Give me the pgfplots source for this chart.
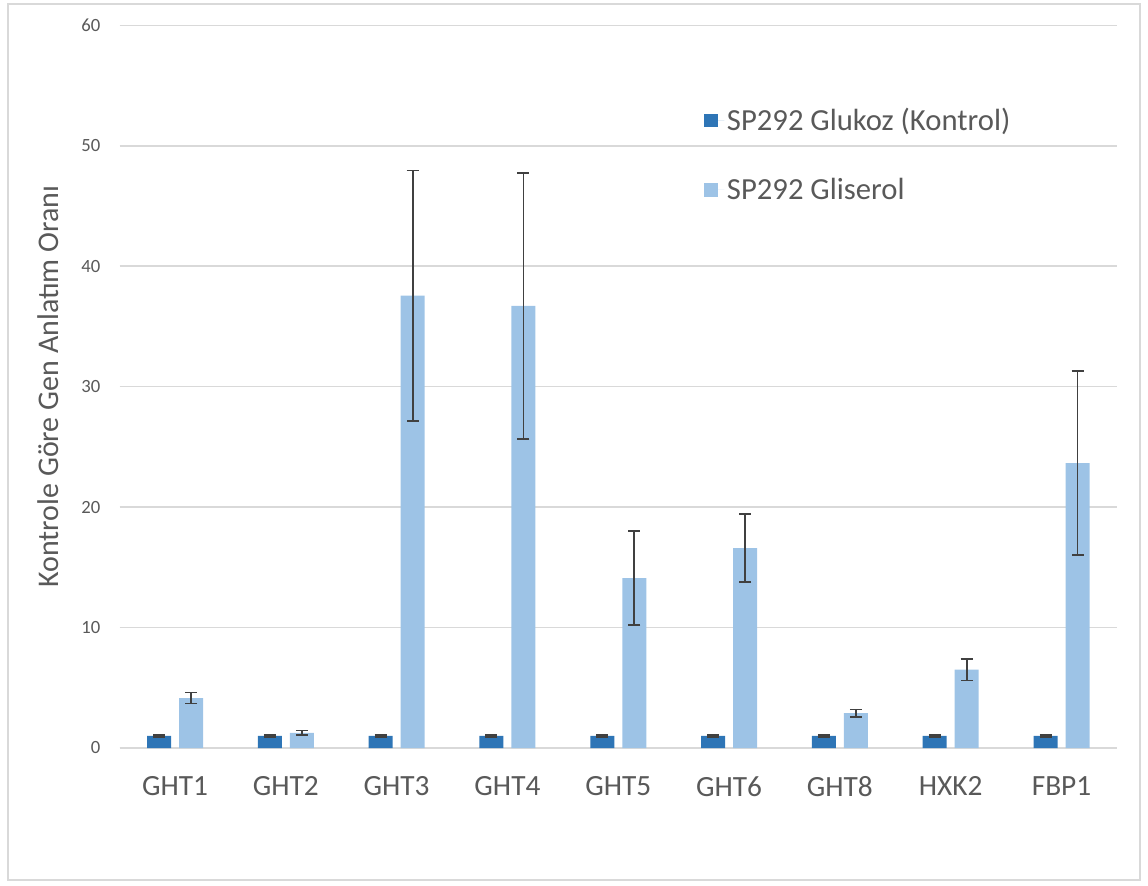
\documentclass[border=0pt]{standalone}
\usepackage{fontspec}
\setmainfont{Carlito}
\usepackage{pgfplots}
\pgfplotsset{compat=1.18}
\definecolor{darkb}{HTML}{2E75B6}
\definecolor{lightb}{HTML}{9DC3E6}
\definecolor{txt}{HTML}{595959}
\definecolor{grd}{HTML}{D9D9D9}
\definecolor{err}{HTML}{404040}
\begin{document}
\begin{tikzpicture}
\useasboundingbox (-89.7pt,-102.75pt) rectangle (771.3pt,561pt);
\draw[grd, line width=1.5pt] (-83.7pt,-99pt) rectangle (765.3pt,558pt);
\begin{axis}[
  scale only axis,
  width=748pt, height=542pt,
  xmin=-0.5, xmax=8.5,
  ymin=0, ymax=60,
  ytick={0,10,...,60},
  xtick={0,...,8},
  xticklabels={GHT1,GHT2,GHT3,GHT4,GHT5,GHT6,GHT8,HXK2,FBP1},
  /pgf/number format/assume math mode=true,
  ymajorgrids,
  grid style={grd, line width=1.1pt},
  axis x line*=bottom,
  axis y line*=left,
  y axis line style={draw=none},
  x axis line style={grd, line width=1.6pt, -},
  major tick length=0pt,
  tick style={draw=none},
  xticklabel style={font=\fontsize{22}{26}\selectfont, text=txt, yshift=-18pt},
  yticklabel style={font=\fontsize{14}{16}\selectfont, text=txt, xshift=-11pt},
  ylabel={Kontrole Göre Gen Anlatım Oranı},
  every axis y label/.style={at={(axis description cs:0,0.5)}, rotate=90, anchor=center, yshift=53.7pt, font=\fontsize{22.5}{26}\selectfont, text=txt},
  ybar, bar width=18pt,
  legend style={draw=none, fill=none, at={(0.582,0.893)}, anchor=north west,
    font=\fontsize{23}{27}\selectfont, text=txt,
    row sep=30pt},
  legend cell align=left,
  legend image code/.code={\fill[#1] (0pt,-5.2pt) rectangle (10.4pt,5.2pt);\path (0pt,0pt) -- (15pt,0pt);},
  error bars/y dir=both, error bars/y explicit,
  error bars/error bar style={err, line width=1.3pt},
  error bars/error mark options={rotate=90, mark size=4.5pt, line width=1.3pt, err},
]
\addplot[fill=darkb, draw=none, bar shift=-12pt] coordinates {
  (0,1) +- (0,0.08)
  (1,1) +- (0,0.08)
  (2,1) +- (0,0.08)
  (3,1) +- (0,0.08)
  (4,1) +- (0,0.08)
  (5,1) +- (0,0.08)
  (6,1) +- (0,0.08)
  (7,1) +- (0,0.08)
  (8,1) +- (0,0.08)
};
\addlegendentry{SP292 Glukoz (Kontrol)}
\addplot[fill=lightb, draw=none, bar shift=12pt] coordinates {
  (0,4.15) +- (0,0.45)
  (1,1.25) +- (0,0.2)
  (2,37.55) +- (0,10.4)
  (3,36.7) +- (0,11.05)
  (4,14.1) +- (0,3.9)
  (5,16.6) +- (0,2.8)
  (6,2.9) +- (0,0.3)
  (7,6.5) +- (0,0.9)
  (8,23.65) +- (0,7.65)
};
\addlegendentry{SP292 Gliserol}
\end{axis}
\end{tikzpicture}
\end{document}
